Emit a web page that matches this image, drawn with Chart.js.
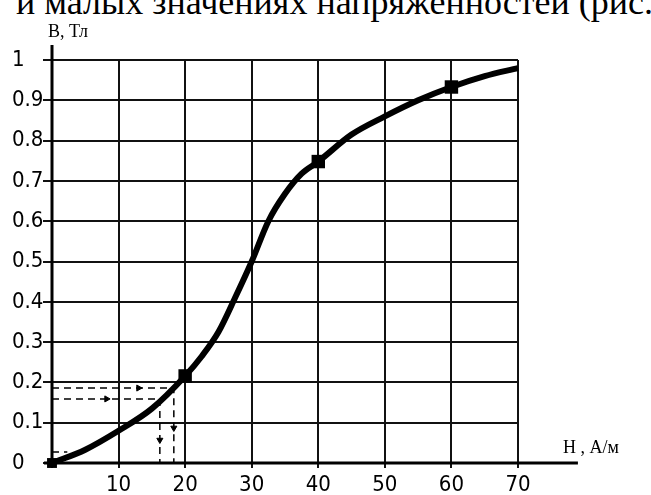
<!DOCTYPE html>
<html>
<head>
<meta charset="utf-8">
<script src="https://cdn.jsdelivr.net/npm/chart.js@4.4.1/dist/chart.umd.min.js"></script>
<style>
  html, body { margin: 0; padding: 0; background: #fff; }
  #wrap { position: relative; width: 651px; height: 495px; overflow: hidden; }
  #topText {
    position: absolute; top: -16px; right: -2px;
    font: 36px "Liberation Serif", "Times New Roman", serif;
    line-height: 36px; white-space: nowrap; color: #000;
  }
  canvas { position: absolute; left: 0; top: 0; }
</style>
</head>
<body>
<div id="wrap">
  <div id="topText">и малых значениях напряженностей (рис.</div>
  <canvas id="bhChart" width="651" height="495"></canvas>
</div>
<script>
// Magnetisation curve B(H)
const fieldH = [0, 5, 10, 15, 20, 22.5, 25, 27.5, 30, 32.5, 35, 37.5, 40, 45, 50, 55, 60, 65, 70];
const inductionB = [0, 0.033, 0.08, 0.135, 0.216, 0.265, 0.325, 0.41, 0.5, 0.6, 0.668, 0.718, 0.748, 0.815, 0.86, 0.9, 0.933, 0.96, 0.98];

// square markers on the curve
const markH = [0, 20, 40, 60];
const markB = [0, 0.216, 0.748, 0.933];

// dashed construction lines
const dashUpperH = [0, 18.3, 18.3];
const dashUpperB = [0.186, 0.186, 0];
const dashLowerH = [0, 16.2, 16.2];
const dashLowerB = [0.159, 0.159, 0];
const dashSmallH = [0, 2.3];
const dashSmallB = [0.027, 0.027];

// little arrow heads on the dashed lines
const arrowH = [13, 8.2, 18.3, 16.2];
const arrowB = [0.186, 0.159, 0.087, 0.057];
const arrowTurn = [90, 90, 180, 180];

const yTitle = 'B, Тл';
const xTitle = 'H , A/м';
const xAxisEnd = 79;
const yAxisEnd = 1.037;

const pts = (xs, ys) => xs.map((v, i) => ({ x: v, y: ys[i] }));

const tickFont = { family: '"Liberation Sans Narrow", "DejaVu Sans Condensed", "Liberation Sans", sans-serif', size: 22 };

// axis lines running past the grid, plus the axis names
const axisExtras = {
    id: 'axisExtras',
    afterDraw(chart) {
        const { ctx, scales: { x, y } } = chart;
        const x0 = x.getPixelForValue(0);
        const y0 = y.getPixelForValue(0);
        ctx.save();
        ctx.strokeStyle = '#000';
        ctx.lineWidth = 3;
        ctx.beginPath();
        ctx.moveTo(x.getPixelForValue(-1.2), y0);
        ctx.lineTo(x.getPixelForValue(xAxisEnd), y0);
        ctx.moveTo(x0, y.getPixelForValue(-0.008));
        ctx.lineTo(x0, y.getPixelForValue(yAxisEnd));
        ctx.stroke();
        ctx.fillStyle = '#000';
        ctx.font = '18px "Liberation Serif", serif';
        ctx.textBaseline = 'alphabetic';
        ctx.fillText(yTitle, x0 - 4, y.getPixelForValue(yAxisEnd) - 8);
        ctx.fillText(xTitle, x.getPixelForValue(xAxisEnd) - 15, y0 - 10);
        ctx.restore();
    }
};

const dashed = (data) => ({
    data: data,
    showLine: true,
    borderColor: '#000',
    borderWidth: 1.5,
    borderDash: [7, 5],
    pointRadius: 0,
    tension: 0,
    clip: false
});

new Chart(document.getElementById('bhChart').getContext('2d'), {
    type: 'scatter',
    data: {
        datasets: [
            {
                data: pts(markH, markB),
                pointStyle: 'rect',
                pointRadius: [7, 9.5, 9.5, 9.5],
                backgroundColor: '#000',
                borderColor: '#000',
                borderWidth: 0,
                clip: false
            },
            {
                data: pts(fieldH, inductionB),
                showLine: true,
                borderColor: '#000',
                borderWidth: 6,
                pointRadius: 0,
                cubicInterpolationMode: 'monotone',
                clip: false
            },
            {
                data: pts(arrowH, arrowB),
                pointStyle: 'triangle',
                rotation: arrowTurn,
                pointRadius: 3.5,
                backgroundColor: '#000',
                borderColor: '#000',
                borderWidth: 1,
                clip: false
            },
            dashed(pts(dashUpperH, dashUpperB)),
            dashed(pts(dashLowerH, dashLowerB)),
            dashed(pts(dashSmallH, dashSmallB))
        ]
    },
    options: {
        responsive: false,
        animation: false,
        layout: { padding: { left: 12, top: 60, right: 133, bottom: 0 } },
        plugins: { legend: { display: false }, tooltip: { enabled: false } },
        scales: {
            x: {
                type: 'linear',
                min: 0,
                max: 70,
                afterFit: s => { s.height = 32; },
                border: { display: false },
                grid: { color: '#111', lineWidth: 2, tickLength: 5 },
                ticks: {
                    stepSize: 10,
                    color: '#000',
                    font: tickFont,
                    padding: 4,
                    maxRotation: 0,
                    callback: v => (v === 0 ? '' : String(v))
                }
            },
            y: {
                type: 'linear',
                min: 0,
                max: 1,
                afterFit: s => { s.width = 40; },
                border: { display: false },
                grid: { color: '#111', lineWidth: 2, tickLength: 9 },
                ticks: {
                    stepSize: 0.1,
                    color: '#000',
                    font: tickFont,
                    crossAlign: 'far',
                    callback: v => String(Math.round(v * 10) / 10)
                }
            }
        }
    },
    plugins: [axisExtras]
});
</script>
</body>
</html>
